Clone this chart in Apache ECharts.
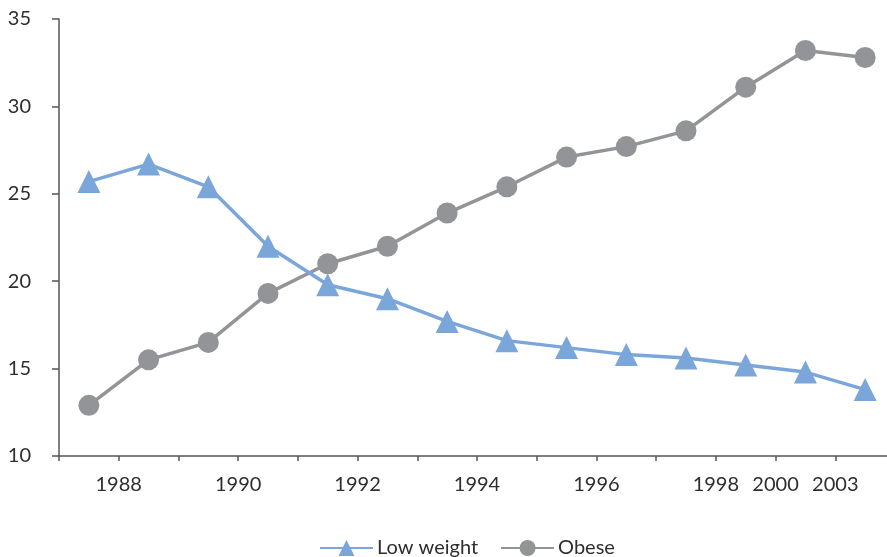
<!DOCTYPE html>
<html>
<head>
<meta charset="utf-8">
<script src="https://cdn.jsdelivr.net/npm/echarts@6/dist/echarts.min.js"></script>
<style>
html,body{margin:0;padding:0;background:#fff;}
#chart{width:887px;height:557px;}
</style>
</head>
<body>
<div id="chart"></div>
<script>
// 14 survey points (categories); x tick labels sit on the boundaries between them
const categories = ['P1','P2','P3','P4','P5','P6','P7','P8','P9','P10','P11','P12','P13','P14'];
const boundaryLabels = ['', '1988', '', '1990', '', '1992', '', '1994', '', '1996', '', '1998', '2000', '2003', ''];
const lowWeight = [25.7, 26.7, 25.4, 22.0, 19.8, 19.0, 17.7, 16.6, 16.2, 15.8, 15.6, 15.2, 14.8, 13.8];
const obese = [12.9, 15.5, 16.5, 19.3, 21.0, 22.0, 23.9, 25.4, 27.1, 27.7, 28.6, 31.1, 33.2, 32.8];
const yTicks = {min: 10, max: 35, interval: 5};

const FONT = 'Lato';
const TXT = '#2e2e2e';
const AX = '#555';
const BLUE = '#7aa6da';
const GRAY = '#939497';

const chart = echarts.init(document.getElementById('chart'), null, {renderer: 'canvas'});
chart.setOption({
  animation: false,
  textStyle: {fontFamily: FONT},
  grid: {left: 59, top: 19, bottom: 101, right: -8, containLabel: false, outerBoundsMode: 'none'},
  legend: {
    bottom: -6,
    left: 314,
    itemWidth: 53,
    itemHeight: 20,
    itemGap: 22,
    textStyle: {fontFamily: FONT, fontSize: 20, color: TXT, padding: [0, 0, 0, -1]},
    data: ['Low weight', 'Obese']
  },
  xAxis: [
    {
      type: 'category',
      data: categories,
      boundaryGap: true,
      axisLine: {lineStyle: {color: AX, width: 1.5}},
      axisTick: {show: true, length: 5, lineStyle: {color: AX, width: 1.5}},
      axisLabel: {show: false},
      splitLine: {show: false}
    },
    {
      type: 'category',
      data: boundaryLabels,
      boundaryGap: false,
      position: 'bottom',
      axisLine: {show: false},
      axisTick: {show: false},
      axisLabel: {show: true, interval: 0, margin: 19, fontSize: 20, color: TXT, fontFamily: FONT},
      splitLine: {show: false}
    }
  ],
  yAxis: {
    type: 'value',
    min: yTicks.min,
    max: yTicks.max,
    interval: yTicks.interval,
    axisLine: {show: true, lineStyle: {color: AX, width: 1.5}},
    axisTick: {show: true, length: 7, lineStyle: {color: AX, width: 1.5}},
    axisLabel: {margin: 28, fontSize: 20, color: TXT, fontFamily: FONT},
    splitLine: {show: false}
  },
  series: [
    {
      name: 'Low weight',
      type: 'line',
      xAxisIndex: 0,
      data: lowWeight,
      symbol: 'triangle',
      symbolSize: 23,
      lineStyle: {color: BLUE, width: 3.5},
      itemStyle: {color: BLUE},
      z: 3
    },
    {
      name: 'Obese',
      type: 'line',
      xAxisIndex: 0,
      data: obese,
      symbol: 'circle',
      symbolSize: 21,
      lineStyle: {color: GRAY, width: 3.5},
      itemStyle: {color: GRAY},
      z: 2
    }
  ]
});
</script>
</body>
</html>
